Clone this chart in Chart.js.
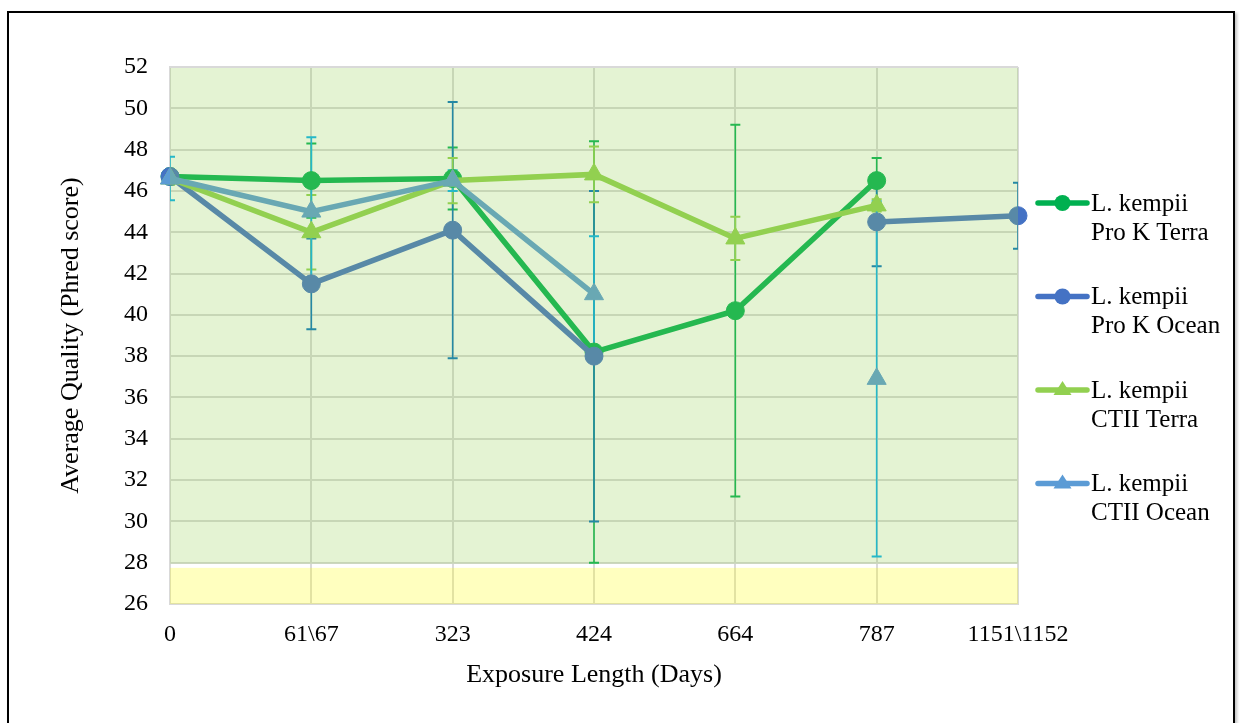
<!DOCTYPE html>
<html><head><meta charset="utf-8">
<script src="https://cdn.jsdelivr.net/npm/chart.js@4.4.1/dist/chart.umd.min.js"></script>
<style>
html,body{margin:0;padding:0;background:#fff;}
#wrap{position:relative;width:1244px;height:723px;overflow:hidden;}
#frame{position:absolute;left:7px;top:11px;width:1224px;height:760px;border:2px solid #000;box-shadow:2px 2px 3px rgba(0,0,0,0.25);}
canvas{position:absolute;left:0;top:0;}
</style></head>
<body><div id="wrap"><div id="frame"></div><canvas id="c" width="1244" height="723"></canvas></div>
<script>
// ---- data ----
const categories = ['0', '61\\67', '323', '424', '664', '787', '1151\\1152'];
const seriesNames = ['L. kempii Pro K Terra', 'L. kempii Pro K Ocean', 'L. kempii CTII Terra', 'L. kempii CTII Ocean'];
const legendLines = [['L. kempii', 'Pro K Terra'], ['L. kempii', 'Pro K Ocean'], ['L. kempii', 'CTII Terra'], ['L. kempii', 'CTII Ocean']];
const proKTerra    = [46.7, 46.5, 46.6, 38.2, 40.2, 46.5, null];
const proKTerraErr = [0.3, 1.8, 1.5, 10.2, 9.0, 1.1, null];
const proKOcean    = [46.7, 41.5, 44.1, 38.0, null, 44.5, 44.8];
const proKOceanErr = [0.3, 2.2, 6.2, 8.0, null, 2.15, 1.6];
const ctiiTerra    = [46.6, 44.0, 46.5, 46.8, 43.7, 45.3, null];
const ctiiTerraErr = [0.3, 1.8, 1.1, 1.35, 1.05, 0.3, null];
const ctiiOcean    = [46.6, 45.0, 46.5, 41.0, null, 36.9, null];
const ctiiOceanErr = [1.05, 3.6, 0.5, 2.8, null, 8.6, null];
const yMin = 26, yMax = 52, yStep = 2;
const greenBand = [28, 52];
const yellowBand = [26, 27.75];

// ---- styles ----
const lineColors = ['#00b050', '#4472c4', '#92d050', '#5b9bd5'];
const errColors  = ['#00b050', '#0070c0', '#92d050', '#00b0f0'];
const pointStyles = ['circle', 'circle', 'triangle', 'triangle'];
const values = [proKTerra, proKOcean, ctiiTerra, ctiiOcean];
const errors = [proKTerraErr, proKOceanErr, ctiiTerraErr, ctiiOceanErr];
const FONT = "'Liberation Serif', 'Times New Roman', serif";
const TEXT = '#000000';

const datasets = values.map((v, i) => ({
  label: seriesNames[i],
  data: v,
  borderColor: lineColors[i],
  backgroundColor: lineColors[i],
  pointBackgroundColor: lineColors[i],
  pointBorderColor: lineColors[i],
  borderWidth: 5.5,
  pointStyle: pointStyles[i],
  pointRadius: pointStyles[i] === 'circle' ? 9 : 11,
  pointBorderWidth: 1,
  spanGaps: false,
  tension: 0,
  clip: false,
  order: 4 - i
}));

const errorBarPlugin = {
  id: 'errorBars',
  beforeDatasetsDraw(chart) {
    const {ctx, chartArea: a, scales: {x, y}} = chart;
    ctx.save();
    ctx.beginPath();
    ctx.rect(a.left, a.top, a.right - a.left, a.bottom - a.top);
    ctx.clip();
    values.forEach((vals, s) => {
      ctx.strokeStyle = errColors[s];
      vals.forEach((v, i) => {
        const e = errors[s][i];
        if (v == null || e == null) return;
        const px = x.getPixelForValue(i);
        const yt = y.getPixelForValue(v + e);
        const yb = y.getPixelForValue(v - e);
        ctx.lineWidth = 1.6;
        ctx.beginPath(); ctx.moveTo(px, yt); ctx.lineTo(px, yb); ctx.stroke();
        ctx.lineWidth = 2;
        ctx.beginPath();
        ctx.moveTo(px - 5, yt); ctx.lineTo(px + 5, yt);
        ctx.moveTo(px - 5, yb); ctx.lineTo(px + 5, yb);
        ctx.stroke();
      });
    });
    ctx.restore();
  }
};

const overlayPlugin = {
  id: 'overlay',
  afterDatasetsDraw(chart) {
    const {ctx, chartArea: a, scales: {y}} = chart;
    ctx.save();
    ctx.fillStyle = 'rgba(146,208,80,0.25)';
    const g1 = y.getPixelForValue(greenBand[1]), g0 = y.getPixelForValue(greenBand[0]);
    ctx.fillRect(a.left, g1 + 1, a.right - a.left, g0 - g1);
    ctx.fillStyle = 'rgba(255,255,0,0.25)';
    const y1 = y.getPixelForValue(yellowBand[1]), y0 = y.getPixelForValue(yellowBand[0]);
    ctx.fillRect(a.left, y1, a.right - a.left, y0 - y1);
    ctx.restore();
  }
};

const legendPlugin = {
  id: 'customLegend',
  afterDraw(chart) {
    const {ctx} = chart;
    const x0 = 1038, x1 = 1087, tx = 1091, top = 203, gap = 93.5, lh = 29;
    ctx.save();
    legendLines.forEach((lines, i) => {
      const cy = top + i * gap;
      ctx.strokeStyle = lineColors[i];
      ctx.fillStyle = lineColors[i];
      ctx.lineWidth = 5.5;
      ctx.lineCap = 'round';
      ctx.beginPath(); ctx.moveTo(x0, cy); ctx.lineTo(x1, cy); ctx.stroke();
      const mx = (x0 + x1) / 2;
      ctx.beginPath();
      if (pointStyles[i] === 'circle') {
        ctx.arc(mx, cy, 8, 0, Math.PI * 2);
      } else {
        ctx.moveTo(mx, cy - 9); ctx.lineTo(mx + 9, cy + 5); ctx.lineTo(mx - 9, cy + 5); ctx.closePath();
      }
      ctx.fill();
      ctx.fillStyle = TEXT;
      ctx.font = "25px " + FONT;
      ctx.textBaseline = 'middle';
      ctx.textAlign = 'left';
      lines.forEach((t, k) => ctx.fillText(t, tx, cy + 1 + k * lh));
    });
    ctx.restore();
  }
};

new Chart(document.getElementById('c'), {
  type: 'line',
  data: {labels: categories, datasets},
  options: {
    responsive: false,
    animation: false,
    devicePixelRatio: 1,
    layout: {padding: {left: 52, top: 67, right: 226, bottom: 28}},
    plugins: {legend: {display: false}, tooltip: {enabled: false}},
    scales: {
      x: {
        type: 'category',
        offset: false,
        grid: {color: '#d9d9d9', lineWidth: 2, drawTicks: false},
        border: {display: true, color: '#d9d9d9', width: 2},
        ticks: {font: {family: FONT, size: 24}, color: TEXT, padding: 16, maxRotation: 0, autoSkip: false},
        title: {display: true, text: 'Exposure Length (Days)', font: {family: FONT, size: 26}, color: TEXT, padding: {top: 4, bottom: 4}},
        afterFit(s) { s.height = 91; }
      },
      y: {
        min: yMin, max: yMax,
        grid: {color: '#d9d9d9', lineWidth: 2, drawTicks: false},
        border: {display: true, color: '#d9d9d9', width: 2},
        ticks: {stepSize: yStep, font: {family: FONT, size: 24}, color: TEXT, padding: 22},
        title: {display: true, text: 'Average Quality (Phred score)', font: {family: FONT, size: 26}, color: TEXT, padding: {top: 4, bottom: 6}},
        afterFit(s) { s.width = 118; }
      }
    }
  },
  plugins: [errorBarPlugin, overlayPlugin, legendPlugin]
});
</script>
</body></html>
